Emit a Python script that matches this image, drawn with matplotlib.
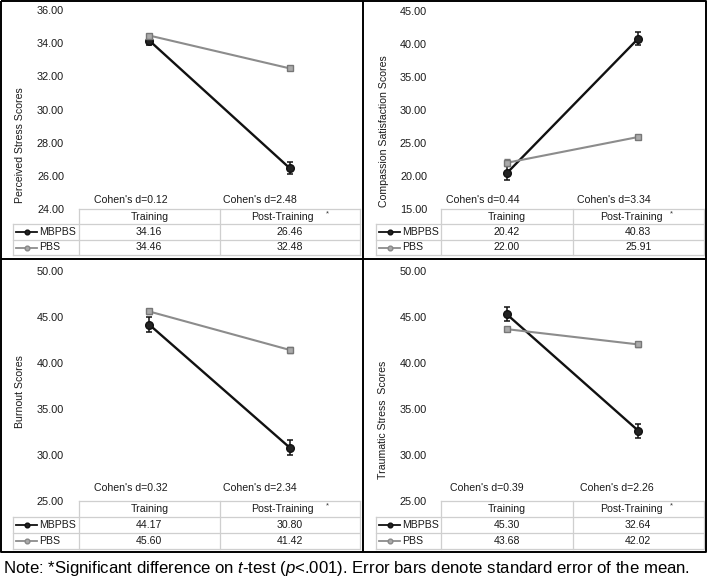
import matplotlib
matplotlib.use("Agg")
import matplotlib.pyplot as plt
import numpy as np

plt.rcParams['font.family'] = ['Liberation Sans', 'DejaVu Sans']
plt.rcParams['mathtext.fontset'] = 'custom'
plt.rcParams['mathtext.rm'] = 'Liberation Sans'
plt.rcParams['mathtext.it'] = 'Liberation Sans:italic'

# ---------------- data ----------------
timepoints = ["Training", "Post-Training"]
groups = ["MBPBS", "PBS"]

ps_labels = "Perceived Stress Scores"
ps_mbpbs = [34.16, 26.46]
ps_pbs = [34.46, 32.48]
ps_mbpbs_se = [0.30, 0.36]
ps_pbs_se = [0.12, 0.12]
ps_cohen = [0.12, 2.48]
ps_yticks = [24, 26, 28, 30, 32, 34, 36]

cs_labels = "Compassion Satisfaction Scores"
cs_mbpbs = [20.42, 40.83]
cs_pbs = [22.00, 25.91]
cs_mbpbs_se = [1.10, 1.00]
cs_pbs_se = [0.55, 0.30]
cs_cohen = [0.44, 3.34]
cs_yticks = [15, 20, 25, 30, 35, 40, 45]

bo_labels = "Burnout Scores"
bo_mbpbs = [44.17, 30.80]
bo_pbs = [45.60, 41.42]
bo_mbpbs_se = [0.80, 0.80]
bo_pbs_se = [0.30, 0.30]
bo_cohen = [0.32, 2.34]
bo_yticks = [25, 30, 35, 40, 45, 50]

ts_labels = "Traumatic Stress  Scores"
ts_mbpbs = [45.30, 32.64]
ts_pbs = [43.68, 42.02]
ts_mbpbs_se = [0.75, 0.75]
ts_pbs_se = [0.25, 0.25]
ts_cohen = [0.39, 2.26]
ts_yticks = [25, 30, 35, 40, 45, 50]

W, H = 709, 581
fig = plt.figure(figsize=(W / 100, H / 100), dpi=100)
fig.patch.set_facecolor('white')

ov = fig.add_axes([0, 0, 1, 1], zorder=0)
ov.set_xlim(0, W)
ov.set_ylim(H, 0)
ov.axis('off')

BLACK = '#111111'
GRAY_LINE = '#8c8c8c'
GRID = '#cfcfcf'

panels = [
    dict(label=ps_labels, m=ps_mbpbs, p=ps_pbs, sm=ps_mbpbs_se, sp=ps_pbs_se, d=ps_cohen, yt=ps_yticks,
         L=79, R=360, T=10, B=209, lab=13, ylx=20, yly=145, pad=10.8,
         cx=[131, 260], cy=200, rows=[209, 224, 240, 255]),
    dict(label=cs_labels, m=cs_mbpbs, p=cs_pbs, sm=cs_mbpbs_se, sp=cs_pbs_se, d=cs_cohen, yt=cs_yticks,
         L=441, R=704, T=11, B=209, lab=376, ylx=384, yly=131, pad=10.0,
         cx=[483, 614], cy=200, rows=[209, 224, 240, 255]),
    dict(label=bo_labels, m=bo_mbpbs, p=bo_pbs, sm=bo_mbpbs_se, sp=bo_pbs_se, d=bo_cohen, yt=bo_yticks,
         L=79, R=360, T=271, B=501, lab=13, ylx=20, yly=392, pad=10.8,
         cx=[131, 260], cy=488, rows=[501, 517, 533, 549]),
    dict(label=ts_labels, m=ts_mbpbs, p=ts_pbs, sm=ts_mbpbs_se, sp=ts_pbs_se, d=ts_cohen, yt=ts_yticks,
         L=441, R=704, T=271, B=501, lab=376, ylx=383, yly=420, pad=10.0,
         cx=[487, 617], cy=488, rows=[501, 517, 533, 549]),
]

xs = np.arange(len(timepoints))

for pn in panels:
    L, R, T, B = pn['L'], pn['R'], pn['T'], pn['B']
    ax = fig.add_axes([L / W, 1 - B / H, (R - L) / W, (B - T) / H], zorder=2)
    ax.patch.set_visible(False)
    ax.set_xlim(-0.5, 1.5)
    yt = pn['yt']
    ax.set_ylim(yt[0], yt[-1])
    ax.set_yticks(yt)
    ax.set_yticklabels([f"{v:.2f}" for v in yt])
    ax.set_xticks([])
    ax.tick_params(axis='y', length=0, pad=pn['pad'], labelsize=7.8, labelcolor='#1a1a1a')
    for s in ax.spines.values():
        s.set_visible(False)

    ax.errorbar(xs, pn['m'], yerr=pn['sm'], color=BLACK, lw=1.7, marker='o', ms=5.5,
                mfc='#222222', mec='#111111', capsize=2.5, elinewidth=1.1, capthick=1.1,
                clip_on=False, zorder=3)
    ax.errorbar(xs, pn['p'], yerr=pn['sp'], color=GRAY_LINE, lw=1.5, marker='s', ms=5,
                mfc='#aaaaaa', mec='#777777', ecolor='#777777', capsize=2.5, elinewidth=1.0,
                capthick=1.0, clip_on=False, zorder=4)

    ov.text(pn['ylx'], pn['yly'], pn['label'], rotation=90, ha='center', va='center',
            fontsize=7.6, color='#1a1a1a')

    for cxx, dv in zip(pn['cx'], pn['d']):
        ov.text(cxx, pn['cy'], f"Cohen's d={dv:.2f}", ha='center', va='center', fontsize=7.6,
                color='#1a1a1a')

    r0, r1, r2, r3 = pn['rows']
    lab = pn['lab']
    mid = (L + R) / 2
    kw = dict(color=GRID, lw=0.9, zorder=1)
    ov.plot([L, R], [r0, r0], **kw)
    for yy in (r1, r2, r3):
        ov.plot([lab, R], [yy, yy], **kw)
    ov.plot([lab, lab], [r1, r3], **kw)
    for xx in (L, mid, R):
        ov.plot([xx, xx], [r0, r3], **kw)

    col_centers = [(L + mid) / 2, (mid + R) / 2]
    hy = (r0 + r1) / 2
    ov.text(col_centers[0], hy, timepoints[0], ha='center', va='center', fontsize=7.6, color='#1a1a1a')
    ov.text(col_centers[1] - 7, hy, timepoints[1], ha='center', va='center', fontsize=7.6, color='#1a1a1a')
    ov.text(R - 33, r0 + 4.5, '*', ha='center', va='center', fontsize=5.5, color='#333333')

    for (ry0, ry1), gname, vals, col, mfc, mec in [
        ((r1, r2), groups[0], pn['m'], BLACK, '#222222', '#111111'),
        ((r2, r3), groups[1], pn['p'], GRAY_LINE, '#aaaaaa', '#888888'),
    ]:
        ry = (ry0 + ry1) / 2
        ov.plot([lab + 3, lab + 24], [ry, ry], color=col, lw=1.3, zorder=2)
        ov.plot([lab + 13.5], [ry], marker='o', ms=3.4, mfc=mfc, mec=mec, color=col, zorder=3)
        ov.text(lab + 26, ry, gname, ha='left', va='center', fontsize=7.6, color='#1a1a1a')
        for cc, v in zip(col_centers, vals):
            ov.text(cc, ry, f"{v:.2f}", ha='center', va='center', fontsize=7.6, color='#1a1a1a')

fk = dict(color='black', lw=1.4, zorder=5, solid_capstyle='butt')
ov.plot([1, 706, 706, 1, 1], [1, 1, 552, 552, 1], **fk)
ov.plot([363, 363], [1, 552], **fk)
ov.plot([1, 706], [259, 259], **fk)

note = ("Note: *Significant difference on $\\mathit{t}$-test ($\\mathit{p}$<.001). "
        "Error bars denote standard error of the mean.")
ov.text(3, 568, note, ha='left', va='center', fontsize=12.1, color='black')

fig.savefig("out.png", dpi=100, facecolor='white')
